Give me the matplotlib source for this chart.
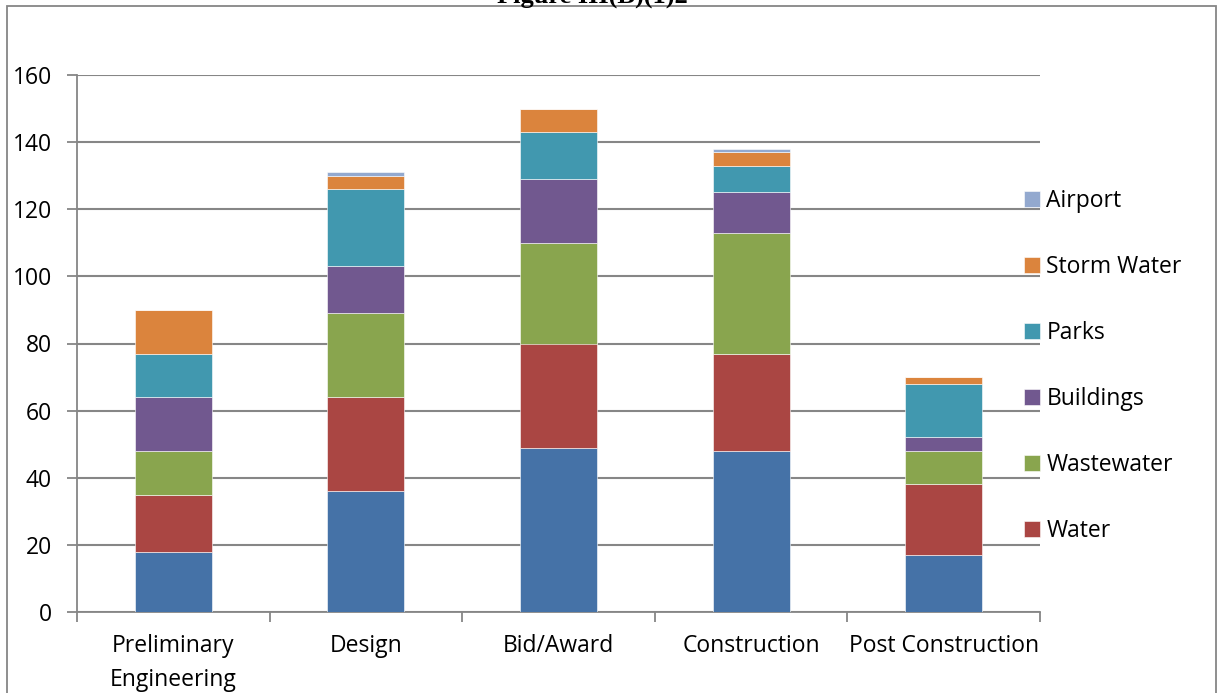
import matplotlib
matplotlib.use('Agg')
import matplotlib.pyplot as plt
from matplotlib.patches import Rectangle
import numpy as np

categories = ['Preliminary\nEngineering', 'Design', 'Bid/Award', 'Construction', 'Post Construction']
series_names = ['', 'Water', 'Wastewater', 'Buildings', 'Parks', 'Storm Water', 'Airport']
transport = [18, 36, 49, 48, 17]
water = [17, 28, 31, 29, 21]
wastewater = [13, 25, 30, 36, 10]
buildings = [16, 14, 19, 12, 4]
parks = [13, 23, 14, 8, 16]
storm_water = [13, 4, 7, 4, 2]
airport = [0, 1, 0, 1, 0]
colors = ['#4572A7', '#AA4643', '#89A54E', '#71588F', '#4198AF', '#DB843D', '#93A9CF']

plt.rcParams['font.family'] = ['Open Sans', 'DejaVu Sans']
grey = '#868686'
fs = 16.5

fig = plt.figure(figsize=(12.17, 6.93), dpi=100)
ax = fig.add_axes([77/1217, 1-612/693, (1040-77)/1217, (612-75)/693])

x = np.arange(len(categories))
bottom = np.zeros(len(categories))
handles = []
for name, vals, c in zip(series_names,
                         [transport, water, wastewater, buildings, parks, storm_water, airport],
                         colors):
    b = ax.bar(x, vals, 0.4, bottom=bottom, color=c, edgecolor='white', linewidth=0.4,
               label=name if name else '_nolegend_', zorder=3)
    if name:
        handles.append(b)
    bottom += np.array(vals)

ax.set_xlim(-0.5, 4.5)
ax.set_ylim(0, 160)
ax.set_yticks(range(0, 161, 20))
ax.yaxis.grid(True, color=grey, linewidth=1.5, zorder=0)
ax.set_xticks(x)
ax.set_xticklabels(categories, fontsize=fs, linespacing=1.55)
ax.set_xticks(np.arange(-0.5, 5, 1), minor=True)
ax.tick_params(axis='x', which='major', length=0, pad=16)
ax.tick_params(axis='x', which='minor', length=7, width=1.3, color=grey, direction='out')
ax.tick_params(axis='y', length=7, width=1.3, color=grey, labelsize=fs, pad=11)
for s in ['top', 'right']:
    ax.spines[s].set_visible(False)
for s in ['left', 'bottom']:
    ax.spines[s].set_color(grey)
    ax.spines[s].set_linewidth(1.3)

leg = fig.legend(handles[::-1], [h.get_label() for h in handles[::-1]],
                 loc='center left', bbox_to_anchor=(1024/1217, 1-366/693),
                 frameon=False, fontsize=fs, handlelength=0.7, handleheight=0.7,
                 handletextpad=0.28, labelspacing=1.83, borderpad=0, borderaxespad=0)

fig.patches.append(Rectangle((7/1217, -0.1), (1216-7)/1217, 1.1-6/693,
                             transform=fig.transFigure, fill=False,
                             edgecolor=grey, linewidth=1.3))
fig.text(592/1217, 1-3/693, 'Figure III(B)(1)2', ha='center', va='baseline',
         fontsize=19, fontweight='bold', family=['Liberation Serif', 'DejaVu Serif'])

fig.savefig('out.png', dpi=100)
